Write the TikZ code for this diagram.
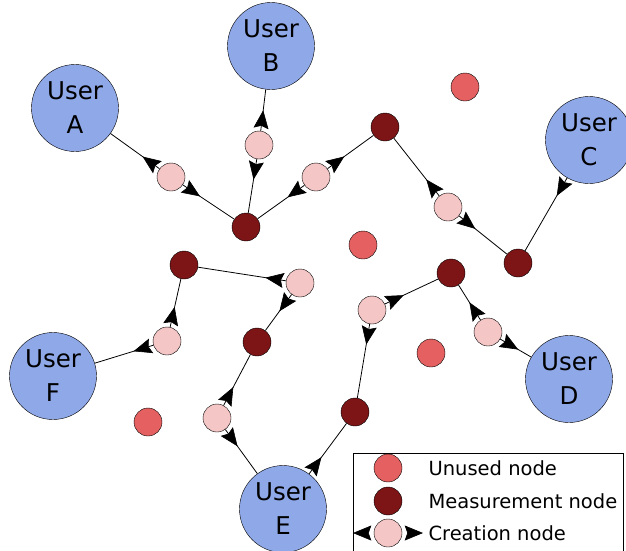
\documentclass[tikz,border=0pt]{standalone}
\usepackage{fontspec}
\setmainfont{DejaVu Sans}
\usepackage{tikz}
\usetikzlibrary{arrows.meta, decorations.markings}

\definecolor{userblue}{HTML}{8FA8E8}
\definecolor{measred}{HTML}{7D1416}
\definecolor{unusedred}{HTML}{E56161}
\definecolor{creapink}{HTML}{F5C6C6}

\tikzset{
  user/.style={circle, draw, fill=userblue, minimum size=87pt, inner sep=0pt,
    align=center, font=\fontsize{24.5}{34}\selectfont},
  measnode/.style={circle, draw, fill=measred, minimum size=28pt, inner sep=0pt},
  unusednode/.style={circle, draw, fill=unusedred, minimum size=28pt, inner sep=0pt},
  creanode/.style={circle, draw, fill=creapink, minimum size=28pt, inner sep=0pt},
  emit/.style={line width=0.8pt, postaction={decorate},
    decoration={markings, mark=at position 20pt with
      {\filldraw[black, line width=0.6pt, line join=miter] (-17pt,-7pt) -- (0pt,0pt)
         -- (-17pt,7pt) -- (-14.5pt,0pt) -- cycle;}}},
  legtext/.style={anchor=west, font=\fontsize{19.5}{22}\selectfont}
}

\begin{document}
\begin{tikzpicture}[x=1pt, y=-1pt]
    \useasboundingbox (0,0) rectangle (626,550);

    % Users
    \node[user] (userA) at (75,108) {User\\A};
    \node[user] (userB) at (271,46) {User\\B};
    \node[user] (userC) at (589,140) {User\\C};
    \node[user] (userD) at (569,379) {User\\D};
    \node[user] (userE) at (283,509) {User\\E};
    \node[user] (userF) at (53,376) {User\\F};

    % Measurement nodes
    \node[measnode] (m1) at (246,227) {};
    \node[measnode] (m2) at (385,127) {};
    \node[measnode] (m3) at (518,263) {};
    \node[measnode] (m4) at (184,265) {};
    \node[measnode] (m5) at (257,342) {};
    \node[measnode] (m6) at (451,273) {};
    \node[measnode] (m7) at (355,412) {};

    % Unused nodes
    \node[unusednode] (u1) at (465,87) {};
    \node[unusednode] (u2) at (363,245) {};
    \node[unusednode] (u3) at (431,353) {};
    \node[unusednode] (u4) at (148,422) {};

    % Creation nodes
    \node[creanode] (c1) at (171,177) {};
    \node[creanode] (c2) at (259,145) {};
    \node[creanode] (c3) at (316,177) {};
    \node[creanode] (c4) at (448,207) {};
    \node[creanode] (c5) at (300,283) {};
    \node[creanode] (c6) at (167,341) {};
    \node[creanode] (c7) at (217,418) {};
    \node[creanode] (c8) at (372,310) {};
    \node[creanode] (c9) at (488,332) {};

    % Links
    \draw[emit] (c1) -- (userA);
    \draw[emit] (c1) -- (m1);
    \draw[emit] (c2) -- (userB);
    \draw[emit] (c2) -- (m1);
    \draw[emit] (c3) -- (m1);
    \draw[emit] (c3) -- (m2);
    \draw[emit] (c4) -- (m2);
    \draw[emit] (c4) -- (m3);
    \draw[emit] (userC) -- (m3);
    \draw[emit] (c5) -- (m4);
    \draw[emit] (c5) -- (m5);
    \draw[emit] (c6) -- (m4);
    \draw[emit] (c6) -- (userF);
    \draw[emit] (c7) -- (m5);
    \draw[emit] (c7) -- (userE);
    \draw[emit] (c8) -- (m6);
    \draw[emit] (c8) -- (m7);
    \draw[emit] (c9) -- (m6);
    \draw[emit] (c9) -- (userD);
    \draw[emit] (userE) -- (m7);

    % Legend
    \draw[fill=white, line width=0.8pt] (353,453) rectangle (623,560);
    \node[unusednode] (legU) at (388,468) {};
    \node[measnode] (legM) at (388,501) {};
    \node[creanode] (legC) at (388,533) {};
    \coordinate (legCL) at (340,533);
    \coordinate (legCR) at (440,533);
    \path[emit] (legC) -- (legCL);
    \path[emit] (legC) -- (legCR);
    \node[legtext] (txtU) at (425,468) {Unused node};
    \node[legtext] (txtM) at (425,501) {Measurement node};
    \node[legtext] (txtC) at (425,533) {Creation node};
\end{tikzpicture}
\end{document}
